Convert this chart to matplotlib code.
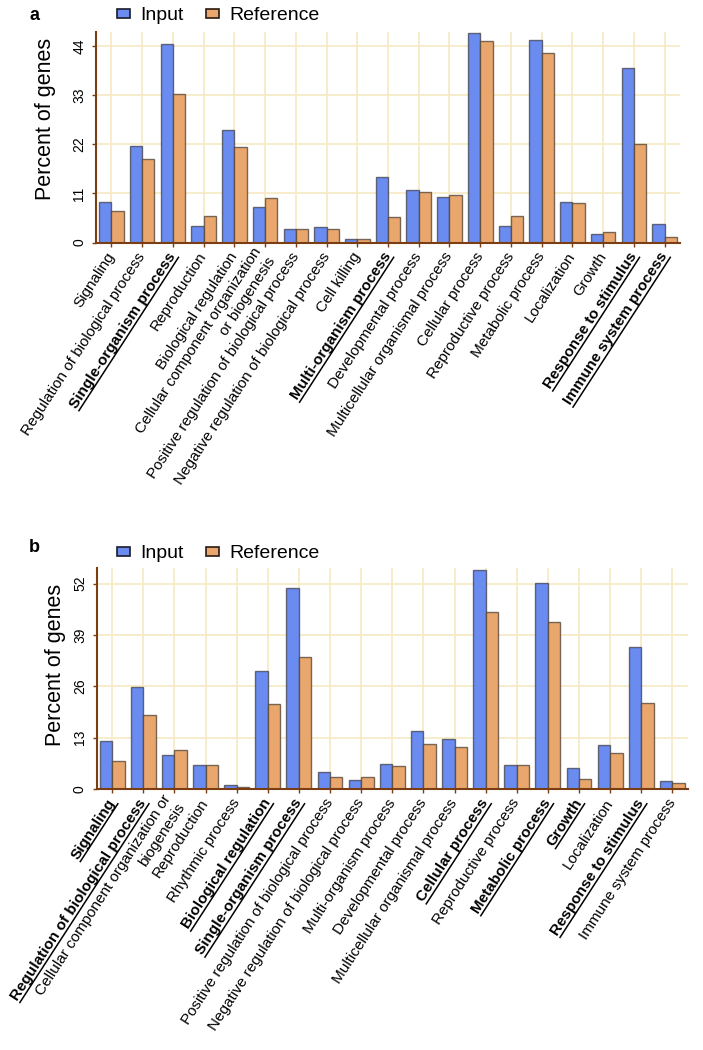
import numpy as np
import matplotlib
matplotlib.use('Agg')
import matplotlib.pyplot as plt
from matplotlib.patches import Patch
from matplotlib.lines import Line2D

plt.rcParams['font.family'] = ['Liberation Sans', 'DejaVu Sans']

# ---- panel a ----
cats_a = ['Signaling', 'Regulation of biological process', 'Single-organism process',
          'Reproduction', 'Biological regulation',
          'Cellular component organization\nor biogenesis',
          'Positive regulation of biological process',
          'Negative regulation of biological process', 'Cell killing',
          'Multi-organism process', 'Developmental process',
          'Multicellular organismal process', 'Cellular process',
          'Reproductive process', 'Metabolic process', 'Localization', 'Growth',
          'Response to stimulus', 'Immune system process']
input_a = [9.1, 21.6, 44.4, 3.8, 25.2, 8.0, 3.1, 3.5, 0.9, 14.7, 11.8, 10.2,
           46.8, 3.7, 45.3, 9.1, 2.0, 39.0, 4.1]
ref_a = [7.0, 18.6, 33.2, 6.0, 21.4, 9.9, 3.1, 3.0, 0.9, 5.7, 11.3, 10.7,
         45.0, 6.0, 42.4, 8.9, 2.4, 22.0, 1.2]
bold_a = ['Single-organism process', 'Multi-organism process',
          'Response to stimulus', 'Immune system process']
yticks_a = [0, 11, 22, 33, 44]

# ---- panel b ----
cats_b = ['Signaling', 'Regulation of biological process',
          'Cellular component organization or\nbiogenesis', 'Reproduction',
          'Rhythmic process', 'Biological regulation', 'Single-organism process',
          'Positive regulation of biological process',
          'Negative regulation of biological process', 'Multi-organism process',
          'Developmental process', 'Multicellular organismal process',
          'Cellular process', 'Reproductive process', 'Metabolic process',
          'Growth', 'Localization', 'Response to stimulus', 'Immune system process']
input_b = [12.2, 25.8, 8.6, 6.1, 1.1, 30.0, 50.8, 4.4, 2.3, 6.4, 14.7, 12.7,
           55.5, 6.1, 52.2, 5.4, 11.1, 36.0, 2.1]
ref_b = [7.1, 18.7, 9.9, 6.1, 0.6, 21.4, 33.3, 3.0, 3.0, 5.9, 11.5, 10.7,
         44.9, 6.1, 42.2, 2.5, 9.0, 21.9, 1.4]
bold_b = ['Signaling', 'Regulation of biological process', 'Biological regulation',
          'Single-organism process', 'Cellular process', 'Metabolic process',
          'Growth', 'Response to stimulus']
yticks_b = [0, 13, 26, 39, 52]

BLUE = '#6A8CF0'
ORANGE = '#EAA76D'
BROWN = '#7A3E12'
GRID = '#F7EAC6'


def draw_panel(ax, cats, inp, ref, yticks, ymax, ylab_x, ylab_y):
    x = np.arange(len(cats))
    ax.bar(x - 0.2, inp, 0.4, color=BLUE, edgecolor=(0.25, 0.25, 0.3, 0.75), linewidth=1)
    ax.bar(x + 0.2, ref, 0.4, color=ORANGE, edgecolor=(0.3, 0.25, 0.2, 0.75), linewidth=1)
    ax.set_xlim(-0.5, len(cats) - 0.5)
    ax.set_ylim(0, ymax)
    ax.set_axisbelow(True)
    ax.grid(True, color=GRID, linewidth=1.3)
    for s in ['top', 'right']:
        ax.spines[s].set_visible(False)
    for s in ['left', 'bottom']:
        ax.spines[s].set_color(BROWN)
        ax.spines[s].set_linewidth(1.5)
    ax.set_yticks(yticks)
    ax.set_yticklabels([str(t) for t in yticks], rotation=90, va='center', fontsize=10)
    ax.set_xticks(x)
    ax.set_xticklabels(cats, rotation=57, ha='right', va='center',
                       rotation_mode='anchor', fontsize=11)
    ax.tick_params(axis='both', color=BROWN, length=3, width=1)
    ax.tick_params(axis='x', pad=5)
    ax.tick_params(axis='y', pad=4)
    ax.set_ylabel('Percent of genes', fontsize=15.5)
    ax.yaxis.set_label_coords(ylab_x, ylab_y)


def underline_labels(fig, ax, bold):
    renderer = fig.canvas.get_renderer()
    inv = fig.transFigure.inverted()
    for lab in ax.get_xticklabels():
        if lab.get_text() not in bold:
            continue
        lab.set_fontweight('bold')
    fig.canvas.draw()
    for lab in ax.get_xticklabels():
        if lab.get_text() not in bold:
            continue
        tmp = fig.text(0, 0, lab.get_text(), fontproperties=lab.get_fontproperties())
        bb = tmp.get_window_extent(renderer)
        tmp.remove()
        w, h = bb.width, bb.height
        th = np.deg2rad(lab.get_rotation())
        x0, y0 = lab.get_transform().transform(lab.get_position())
        u = np.array([np.cos(th), np.sin(th)])
        n = np.array([np.sin(th), -np.cos(th)])
        end = np.array([x0, y0]) + 0.48 * h * n
        start = end - w * u
        pts = inv.transform([start, end])
        fig.add_artist(Line2D(pts[:, 0], pts[:, 1], transform=fig.transFigure,
                              color='black', linewidth=1.1))


fig = plt.figure(figsize=(7.03, 10.5), dpi=100)
ax_a = fig.add_axes([0.1366, 0.769, 0.8307, 0.2005])
ax_b = fig.add_axes([0.1375, 0.2486, 0.841, 0.2102])

draw_panel(ax_a, cats_a, input_a, ref_a, yticks_a, 47.1, -0.069, 0.589)
draw_panel(ax_b, cats_b, input_b, ref_b, yticks_b, 55.9, -0.052, 0.562)

handles = [Patch(facecolor=BLUE, edgecolor='#1a1a2a', linewidth=1.2),
           Patch(facecolor=ORANGE, edgecolor='#2a1a10', linewidth=1.2)]
for ypix in [16, 554]:
    fig.legend(handles, ['Input', 'Reference'], loc='center left',
               bbox_to_anchor=(117 / 703, 1 - ypix / 1050), ncol=2, frameon=False,
               fontsize=14, borderpad=0, handlelength=0.67, handleheight=0.35,
               handletextpad=0.5, columnspacing=1.2, borderaxespad=0)

fig.text(29 / 703, 1 - 15 / 1050, 'a', fontsize=13, fontweight='bold', va='center')
fig.text(29 / 703, 1 - 547 / 1050, 'b', fontsize=13, fontweight='bold', va='center')

underline_labels(fig, ax_a, bold_a)
underline_labels(fig, ax_b, bold_b)

fig.savefig('out.png', dpi=100)
